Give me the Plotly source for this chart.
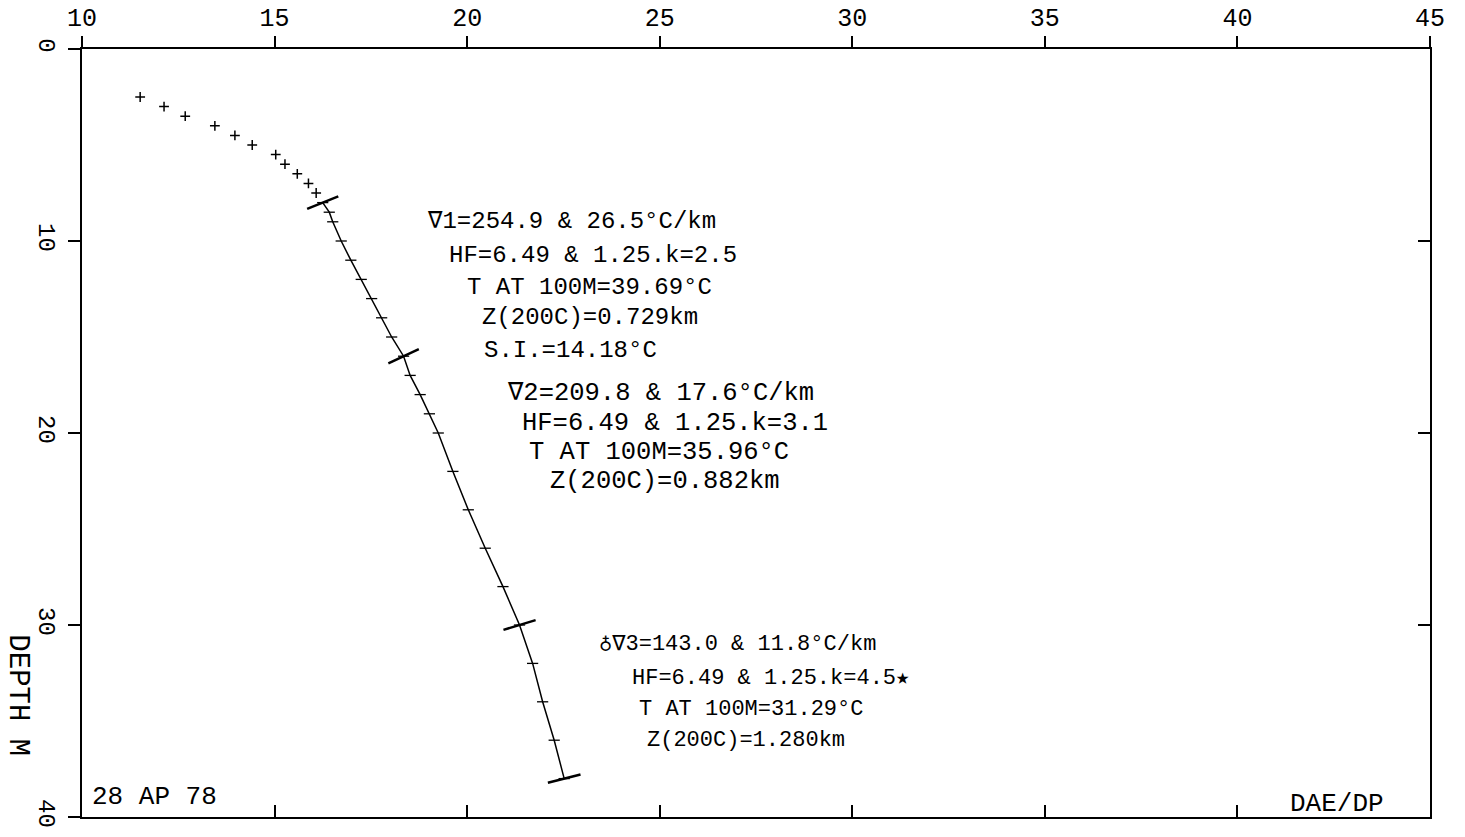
import plotly.graph_objects as go

# ---- data ----
shallow_depth = [2.5, 3.0, 3.5, 4.0, 4.5, 5.0, 5.5, 6.0, 6.5, 7.0, 7.5]
shallow_temp = [11.51, 12.13, 12.68, 13.45, 13.97, 14.42, 15.03, 15.27, 15.59, 15.88, 16.08]

profile_depth = [8.0, 8.5, 9.0, 10, 11, 12, 13, 14, 15, 16, 17, 18, 19, 20, 22, 24, 26, 28, 30, 32, 34, 36, 38]
profile_temp = [16.25, 16.42, 16.51, 16.73, 16.98, 17.25, 17.52, 17.78, 18.04, 18.35, 18.52, 18.78,
                19.02, 19.25, 19.63, 20.03, 20.47, 20.93, 21.36, 21.70, 21.96, 22.26, 22.52]

break_depth = [8.0, 16.0, 30.0, 38.0]
break_temp = [16.25, 18.35, 21.36, 22.52]

x_ticks = [10, 15, 20, 25, 30, 35, 40, 45]
y_ticks = [0, 10, 20, 30, 40]

block1 = ["∇1=254.9 & 26.5°C/km", "HF=6.49 & 1.25.k=2.5", "T AT 100M=39.69°C", "Z(200C)=0.729km", "S.I.=14.18°C"]
block1_x = [18.91, 19.48, 19.95, 20.34, 20.39]
block1_y = [9.0, 10.75, 12.4, 14.0, 15.7]

block2 = ["∇2=209.8 & 17.6°C/km", "HF=6.49 & 1.25.k=3.1", "T AT 100M=35.96°C", "Z(200C)=0.882km"]
block2_x = [20.99, 21.38, 21.56, 22.10]
block2_y = [17.95, 19.5, 21.0, 22.55]

block3 = ["♁∇3=143.0 & 11.8°C/km", "HF=6.49 & 1.25.k=4.5★", "T AT 100M=31.29°C", "Z(200C)=1.280km"]
block3_x = [23.38, 24.23, 24.42, 24.62]
block3_y = [31.0, 32.8, 34.4, 36.0]

FONT = "Liberation Mono, DejaVu Sans Mono, monospace"

fig = go.Figure()

fig.add_trace(go.Scatter(
    x=shallow_temp, y=shallow_depth, mode="markers",
    marker=dict(symbol="cross-thin", size=7, line=dict(color="black", width=1.5)),
    showlegend=False, hoverinfo="skip"))

fig.add_trace(go.Scatter(
    x=profile_temp, y=profile_depth, mode="lines+markers",
    line=dict(color="black", width=1.5),
    marker=dict(symbol="line-ew", size=8, line=dict(color="black", width=1.3)),
    showlegend=False, hoverinfo="skip"))

fig.add_trace(go.Scatter(
    x=break_temp, y=break_depth, mode="markers",
    marker=dict(symbol="line-ew", size=24, angle=[-22, -25, -17, -14],
                line=dict(color="black", width=2.5)),
    showlegend=False, hoverinfo="skip"))

# invisible trace for the secondary (bottom/right) axes
fig.add_trace(go.Scatter(x=[None], y=[None], xaxis="x2", yaxis="y2",
                         showlegend=False, hoverinfo="skip"))

annotations = []
for texts, xs, ys, size in [(block1, block1_x, block1_y, 24),
                            (block2, block2_x, block2_y, 25.5),
                            (block3, block3_x, block3_y, 22)]:
    for t, xv, yv in zip(texts, xs, ys):
        annotations.append(dict(x=xv, y=yv, xref="x", yref="y", text=t, showarrow=False,
                                xanchor="left", yanchor="middle",
                                font=dict(family=FONT, size=size, color="black")))

annotations.append(dict(x=10.2, y=38.95, xref="x", yref="y", text="28 AP 78", showarrow=False,
                        xanchor="left", yanchor="middle", font=dict(family=FONT, size=26, color="black")))
annotations.append(dict(x=41.3, y=39.3, xref="x", yref="y", text="DAE/DP", showarrow=False,
                        xanchor="left", yanchor="middle", font=dict(family=FONT, size=26, color="black")))
annotations.append(dict(x=-0.048, y=0.158, xref="paper", yref="paper", text="DEPTH M", showarrow=False,
                        textangle=90, xanchor="center", yanchor="middle",
                        font=dict(family=FONT, size=29, color="black")))

axis_common = dict(showgrid=False, zeroline=False, showline=True, linecolor="black", linewidth=2,
                   tickcolor="black", tickwidth=1.5, automargin=False)

fig.update_layout(
    width=1465, height=837,
    margin=dict(l=82, r=35, t=49, b=20),
    paper_bgcolor="white", plot_bgcolor="white",
    xaxis=dict(range=[10, 45], tickvals=x_ticks, side="top", ticks="outside", ticklen=11,
               tickfont=dict(family=FONT, size=25, color="black"), **axis_common),
    xaxis2=dict(range=[10, 45], tickvals=x_ticks, side="bottom", overlaying="x", anchor="y",
                ticks="inside", ticklen=12, showticklabels=False, **axis_common),
    yaxis=dict(range=[40, 0], tickvals=y_ticks, ticks="outside", ticklen=12, tickangle=90,
               tickfont=dict(family=FONT, size=24, color="black"), **axis_common),
    yaxis2=dict(range=[40, 0], tickvals=y_ticks, side="right", overlaying="y", anchor="x",
                ticks="inside", ticklen=12, showticklabels=False, **axis_common),
    annotations=annotations,
    showlegend=False,
)

fig.write_html("out.html",
               config={"displayModeBar": False},
               post_script="document.body.style.margin='0';document.body.style.overflow='hidden';")
